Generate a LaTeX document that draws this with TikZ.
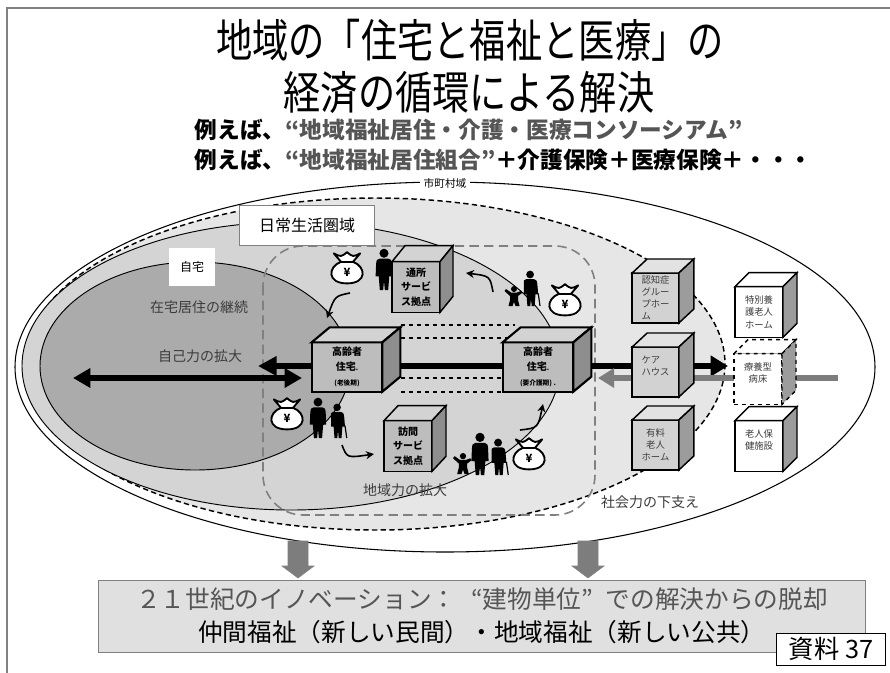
\documentclass[tikz,border=0pt]{standalone}
\usepackage{fontspec}
\usepackage{graphicx}
\setmainfont{Noto Sans CJK JP}
\usetikzlibrary{arrows.meta}

\definecolor{fondA}{HTML}{E6E6E6}
\definecolor{fondB}{HTML}{D4D4D4}
\definecolor{fondC}{HTML}{ABABAB}
\definecolor{faceA}{HTML}{BDBDBD}
\definecolor{dessusA}{HTML}{D3D3D3}
\definecolor{coteA}{HTML}{8E8E8E}
\definecolor{faceC}{HTML}{D2D2D2}
\definecolor{dessusC}{HTML}{E2E2E2}
\definecolor{coteC}{HTML}{9C9C9C}
\definecolor{texteGris}{HTML}{3C3C3C}
\definecolor{titreGris}{HTML}{555555}
\definecolor{flecheGris}{HTML}{7D7D7D}
\definecolor{bandeau}{HTML}{E0E0E0}

% faces du dessus et de cote d'un cube (noeud = face avant)
\newcommand\faces[5][]{%
  \filldraw[fill=#4,#1] (#2.north west) -- ++#3 -- ([shift={#3}]#2.north east) -- (#2.north east) -- cycle;
  \filldraw[fill=#5,#1] (#2.north east) -- ++#3 -- ([shift={#3}]#2.south east) -- (#2.south east) -- cycle;
}

% sac d'argent
\newcommand\sac[3]{%
  \begin{scope}[shift={(#2,#3)}, scale=1.2]
    \filldraw[fill=white, line width=1.4pt, line join=round]
      (-5,-6) .. controls (-16,-2) and (-17,12) .. (0,12)
      .. controls (17,12) and (16,-2) .. (5,-6)
      -- (11,-13) .. controls (5,-10) .. (0,-14) .. controls (-5,-10) .. (-11,-13) -- cycle;
    \draw[line width=1.2pt] (-5,-6) -- (5,-6);
    \node[font=\bfseries\fontsize{8.5}{8}\selectfont, inner sep=0pt] (#1) at (0,3) {¥};
  \end{scope}}

% silhouettes (pieds en (x,y), hauteur h)
\newcommand\adulte[3]{%
  \begin{scope}[shift={(#1,#2)}, scale=#3/40]
    \fill (0,-35) circle (4.3);
    \fill (-4,-30) -- (4,-30) .. controls (7,-29) .. (7.5,-25) -- (8,-13) -- (5,-13)
      -- (4,0) -- (0.8,0) -- (0,-9) -- (-0.8,0) -- (-4,0) -- (-5,-13) -- (-8,-13)
      -- (-7.5,-25) .. controls (-7,-29) .. (-4,-30) -- cycle;
  \end{scope}}
\newcommand\ancien[3]{%
  \begin{scope}[shift={(#1,#2)}, scale=#3/40]
    \fill (-1,-35) circle (4.3);
    \fill (-5,-30) -- (3,-30) .. controls (6,-29) .. (7,-25) -- (8,-13) -- (5,-13)
      -- (4,0) -- (0.8,0) -- (0,-9) -- (-0.8,0) -- (-4,0) -- (-5,-13) -- (-8,-13)
      -- (-8,-25) .. controls (-8,-29) .. (-5,-30) -- cycle;
    \draw[line width=.9pt] (8,-14) -- (10,0);
  \end{scope}}
\newcommand\enfant[3]{%
  \begin{scope}[shift={(#1,#2)}, scale=#3/20]
    \fill (0,-17) circle (3);
    \fill (-3,-13.5) -- (-8,-17) -- (-9.5,-15) -- (-4,-10) -- (-4,-6) -- (-5.5,0)
      -- (-1.5,0) -- (0,-4) -- (1.5,0) -- (5.5,0) -- (4,-6) -- (4,-10) -- (8,-13)
      -- (7,-15) -- (3,-13.5) -- cycle;
  \end{scope}}

\tikzset{
  cube/.style={draw, line width=1.1pt, outer sep=0pt, inner sep=1pt, align=center},
  logement/.style={cube, line width=1.6pt, fill=faceA, minimum width=53pt, minimum height=37pt,
    font=\bfseries\fontsize{7.5}{11}\selectfont},
  service/.style={cube, fill=faceA, minimum width=36pt, minimum height=38pt,
    font=\bfseries\fontsize{7.5}{11}\selectfont},
  foyer/.style={cube, fill=faceC, minimum width=35pt, minimum height=37.5pt,
    text=texteGris, font=\fontsize{7}{9}\selectfont},
  hopital/.style={cube, fill=white, minimum width=36pt, minimum height=38pt,
    text=texteGris, font=\fontsize{7}{9.5}\selectfont},
  legende/.style={text=texteGris, font=\fontsize{10.5}{12}\selectfont},
  courbe/.style={-{Stealth[length=6pt,width=6pt]}, line width=1.2pt},
}

\begin{document}
\begin{tikzpicture}[x=.75pt, y=-.75pt]
  \useasboundingbox (0,0) rectangle (890,672);
  \draw[gray, line width=1.2pt] (7,680) |- (900,8);

  % Les titres
  \node[font=\fontsize{34}{40}\selectfont] (titre1) at (470,40)
    {\scalebox{.8}[1]{地域の「住宅と福祉と医療」の}};
  \node[font=\fontsize{34}{40}\selectfont] (titre2) at (469,92)
    {\scalebox{.82}[1]{経済の循環による解決}};
  \node[anchor=west, font=\bfseries\fontsize{17}{18}\selectfont] (ex1) at (190,130)
    {例えば、{\color{titreGris}“地域福祉居住・介護・医療コンソーシアム”}};
  \node[anchor=west, font=\bfseries\fontsize{17}{18}\selectfont] (ex2) at (190,160)
    {例えば、{\color{titreGris}“地域福祉居住組合”}＋介護保険＋医療保険＋・・・};

  % Les zones
  \draw[line width=.8pt, fill=white] (445,367) ellipse [x radius=430, y radius=185];
  \node[fill=white, inner sep=3pt, font=\fontsize{8}{9}\selectfont] (commune) at (445,183) {市町村域};
  \draw[dash pattern=on 4pt off 2.5pt, line width=1.1pt, fill=fondA]
    (375,364) ellipse [x radius=350, y radius=166];
  \draw[line width=.7pt, fill=fondB] (291,366) ellipse [x radius=269, y radius=144];
  \draw[line width=.7pt, fill=fondC] (195,366) ellipse [x radius=155, y radius=104];
  \draw[gray, dash pattern=on 7pt off 4pt, line width=1.2pt, rounded corners=30pt]
    (263,246) rectangle (595,515);

  \node[draw=gray, fill=white, minimum width=101pt, minimum height=30pt,
    font=\fontsize{12}{14}\selectfont] (quotidien) at (307,225) {日常生活圏域};
  \node[fill=white, minimum width=34pt, minimum height=28pt,
    font=\fontsize{9}{10}\selectfont] (domicile) at (192,267) {自宅};
  \node[legende] (maintien) at (199,307) {在宅居住の継続};
  \node[legende] (soi) at (200,356) {自己力の拡大};
  \node[legende] (local) at (405,490) {地域力の拡大};
  \node[legende] (social) at (650,502) {社会力の下支え};

  % Les liaisons
  \foreach \y in {325,338,378,392}
    \draw[dashed, line width=.8pt] (401,\y) -- (515,\y);
  \coordinate (pointeG) at (258,366);
  \coordinate (pointeD) at (728,366);
  \coordinate (grisD) at (838,378);
  \coordinate (grisG) at (598,378);
  \coordinate (dblG) at (73,378);
  \coordinate (dblD) at (302,378);
  \draw[line width=4.5pt, {Triangle[length=14pt,width=14pt]}-{Triangle[length=13pt,width=15pt]}]
    (pointeG) -- (pointeD);
  \draw[flecheGris, line width=4.5pt, -{Triangle[length=12pt,width=14pt]}] (grisD) -- (grisG);
  \draw[line width=4.5pt, {Triangle[length=13pt,width=14pt]}-{Triangle[length=13pt,width=14pt]}]
    (dblG) -- (dblD);

  % Les cubes
  \node[logement] (hlA) at (347,367) {高齢者\\住宅{\tiny .}\\{\fontsize{5}{6}\selectfont (老後期)}};
  \faces[line width=1.6pt]{hlA}{(18,-15)}{dessusA}{coteA}
  \node[logement] (hlB) at (538,367) {高齢者\\住宅{\tiny .}\\{\fontsize{5}{6}\selectfont (要介護期) .}};
  \faces[line width=1.6pt]{hlB}{(18,-15)}{dessusA}{coteA}
  \node[service] (jour) at (416,287) {通所\\サービ\\ス拠点};
  \faces[line width=1.1pt]{jour}{(13,-16)}{dessusA}{coteA}
  \node[service] (visite) at (408,446) {訪問\\サービ\\ス拠点};
  \faces[line width=1.1pt]{visite}{(14,-15)}{dessusA}{coteA}

  \node[foyer, align=left] (gh) at (655.5,298) {認知症\\グルー\\プホー\\ム};
  \faces[line width=1.1pt]{gh}{(15,-14)}{dessusC}{coteC}
  \node[foyer, align=left] (ch) at (655.5,372) {ケア\\ハウス\\\mbox{}};
  \faces[line width=1.1pt]{ch}{(15,-14)}{dessusC}{coteC}
  \node[foyer] (ep) at (655.5,445) {有料\\老人\\ホーム};
  \faces[line width=1.1pt]{ep}{(15,-14)}{dessusC}{coteC}

  \node[hopital] (tb) at (759,312) {特別養\\護老人\\ホーム};
  \faces[line width=1.1pt]{tb}{(14,-14)}{white}{coteC}
  \node[hopital, dashed] (sl) at (758,379) {療養型\\病床\\\mbox{}};
  \faces[line width=1.1pt, dashed]{sl}{(14,-14)}{white}{coteC}
  \node[hopital] (ps) at (759,446) {老人保\\健施設\\\mbox{}};
  \faces[line width=1.1pt]{ps}{(14,-14)}{white}{coteC}

  % Les personnes et l'argent
  \sac{sacA}{347}{269}
  \adulte{384}{290}{42}
  \sac{sacB}{565}{301}
  \enfant{514}{306}{20}
  \ancien{531}{306}{36}
  \sac{sacC}{287}{415}
  \adulte{318}{438}{41}
  \ancien{338}{438}{35}
  \sac{sacD}{529}{455}
  \enfant{463}{474}{21}
  \adulte{480}{475}{43}
  \ancien{499}{475}{37}

  \draw[courbe] (350,293) .. controls (335,296) .. (327,318);
  \draw[courbe] (493,292) .. controls (490,276) .. (466,273);
  \draw[courbe] (342,445) .. controls (347,458) .. (374,454);
  \draw[courbe] (520,430) .. controls (538,428) .. (543,404);

  % La conclusion
  \foreach \x in {298,588}
    \filldraw[fill=flecheGris, draw=gray] (\x-10,541) -- (\x+10,541) -- (\x+10,566)
      -- (\x+16,566) -- (\x,578) -- (\x-16,566) -- (\x-10,566) -- cycle;
  \node[draw=gray, fill=bandeau, minimum width=575pt, minimum height=54pt, align=center,
    font=\fontsize{18.5}{25}\selectfont] (bandeau) at (482,616)
    {{\color{titreGris}２１世紀のイノベーション：\hspace{.6em}“建物単位”\hspace{.5em}での解決からの脱却}\\
     仲間福祉（新しい民間）・地域福祉（新しい公共）};
  \node[draw, fill=white, minimum width=82pt, minimum height=24pt,
    font=\fontsize{19}{20}\selectfont] (ref) at (831,649) {資料 37};
\end{tikzpicture}
\end{document}
